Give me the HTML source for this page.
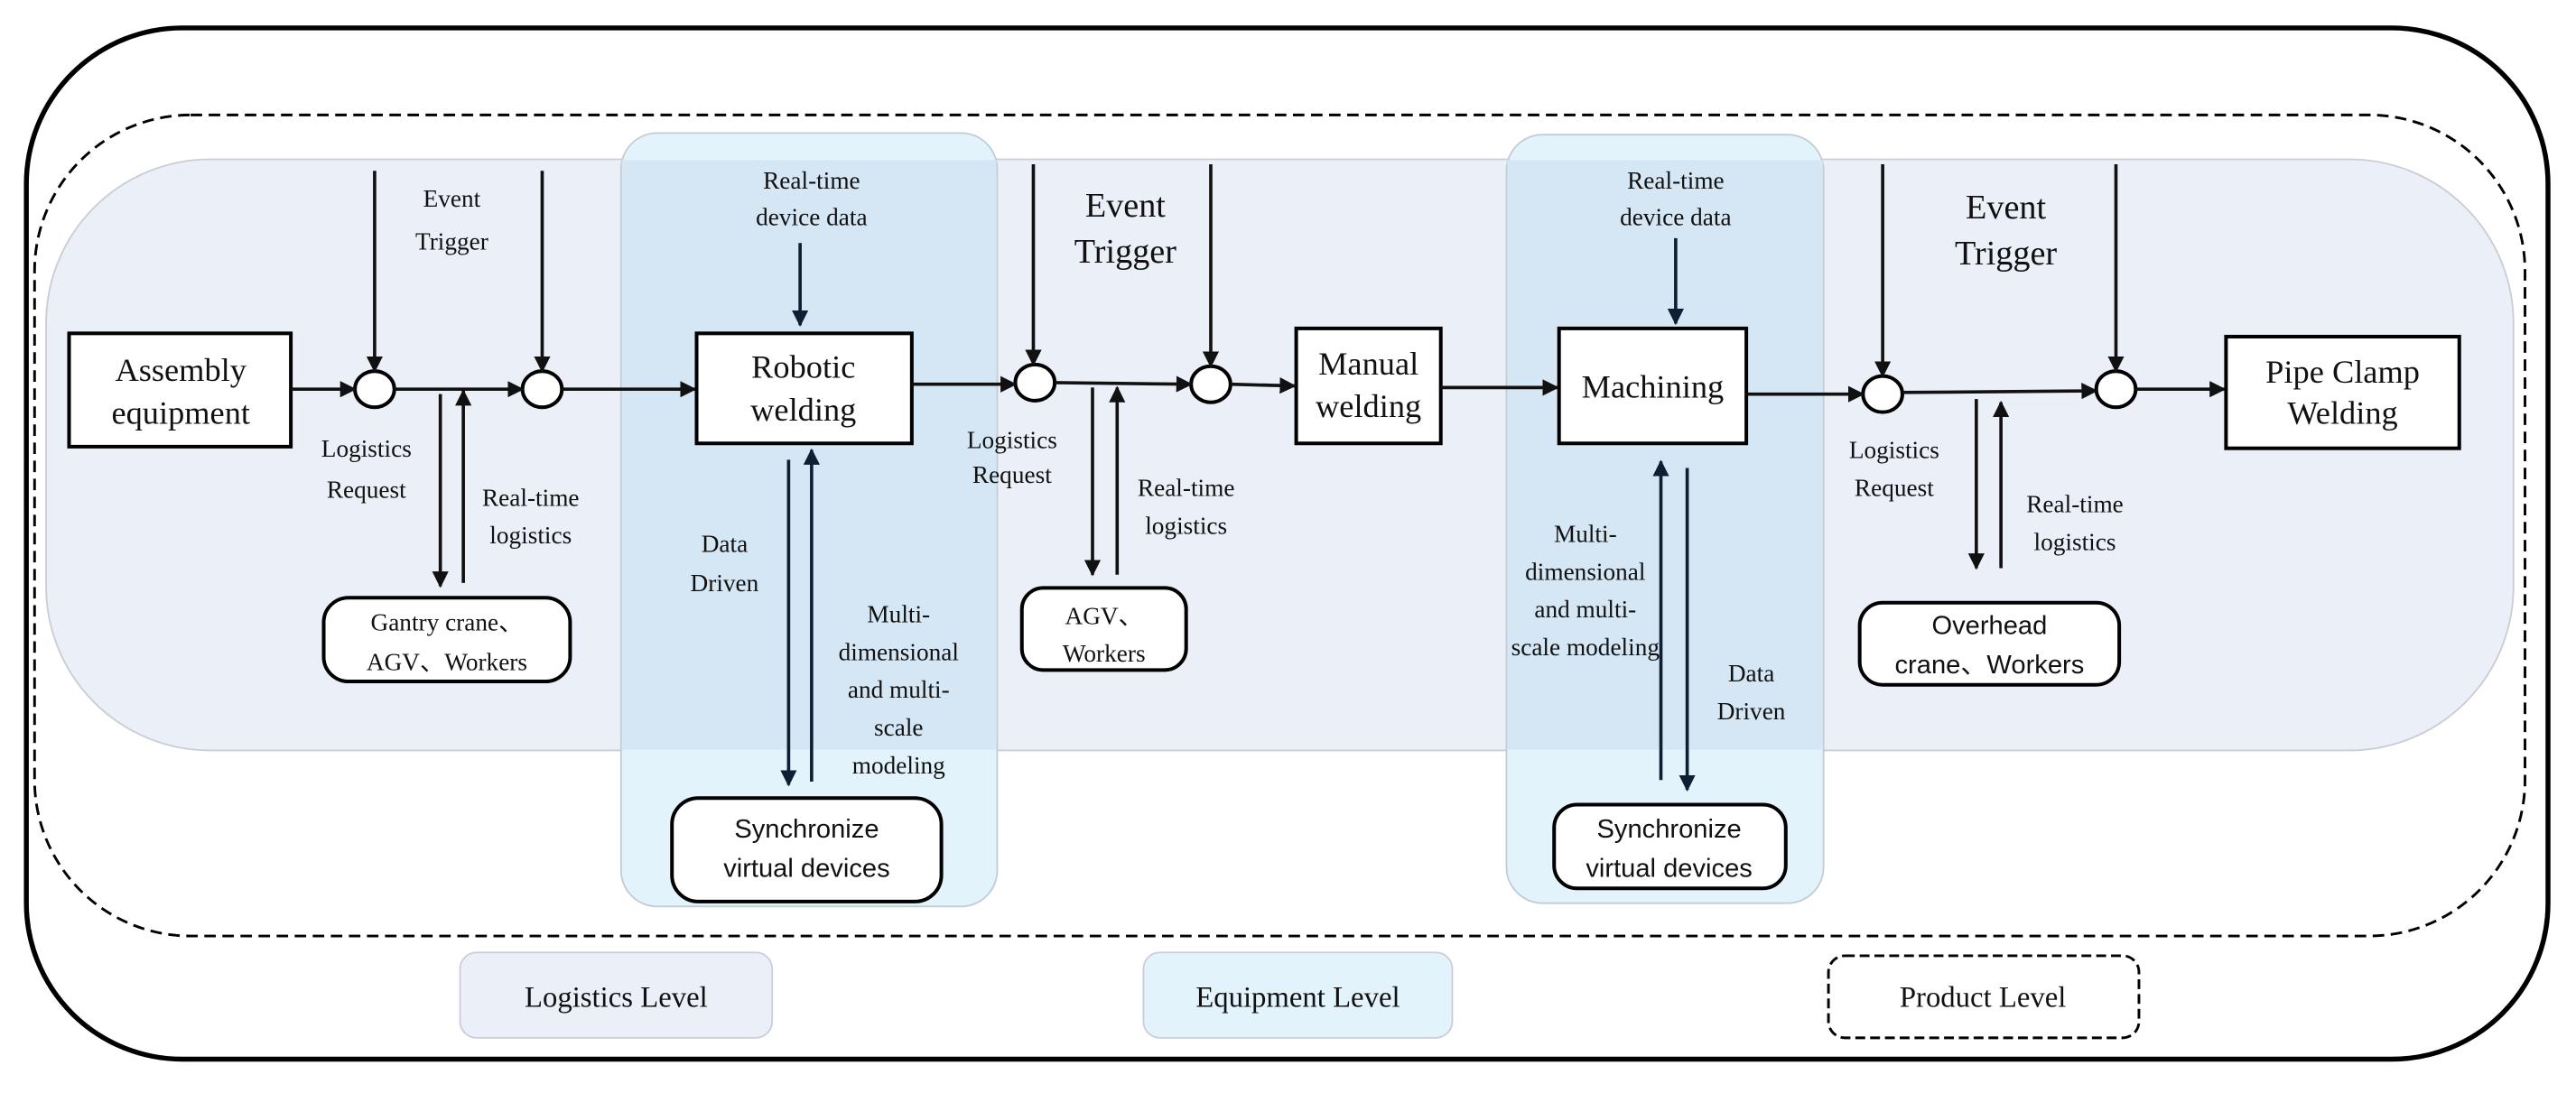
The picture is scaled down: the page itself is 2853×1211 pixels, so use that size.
<!DOCTYPE html>
<html><head><meta charset="utf-8"><style>
html,body{margin:0;padding:0;background:#fff;}
svg{display:block;}
text{font-family:"Liberation Serif",serif;fill:#111;}
.s{font-family:"Liberation Sans",sans-serif;}
</style></head><body>
<svg width="2853" height="1211" viewBox="0 0 1568 665.6" xmlns="http://www.w3.org/2000/svg">
<defs>
<marker id="a" markerWidth="10" markerHeight="10" refX="9" refY="5" orient="auto" markerUnits="userSpaceOnUse">
<path d="M0,0 L10,5 L0,10 z" fill="#111"/></marker>
<marker id="b" markerWidth="10" markerHeight="10" refX="9" refY="5" orient="auto" markerUnits="userSpaceOnUse">
<path d="M0,0 L10,5 L0,10 z" fill="#0d1f33"/></marker>
</defs>
<rect x="16" y="17" width="1535" height="628" rx="95" fill="#fff" stroke="#000" stroke-width="3"/>
<rect x="21" y="70" width="1516" height="500" rx="95" fill="none" stroke="#000" stroke-width="1.6" stroke-dasharray="7,4"/>
<rect x="28" y="97" width="1502" height="360" rx="100" fill="#eaeff8" stroke="#c9cdd4" stroke-width="1"/>
<rect x="378" y="81" width="229" height="471" rx="22" fill="#e2f3fc" stroke="#c3ccd3" stroke-width="1"/>
<rect x="917" y="82" width="193" height="468" rx="22" fill="#e2f3fc" stroke="#c3ccd3" stroke-width="1"/>
<rect x="378.5" y="97.5" width="228" height="359" fill="#d5e7f5"/>
<rect x="917.5" y="97.5" width="192" height="359" fill="#d5e7f5"/>

<!-- main boxes -->
<g fill="#fff" stroke="#000" stroke-width="2.2">
<rect x="42" y="203" width="135" height="69"/>
<rect x="424" y="203" width="131" height="67"/>
<rect x="789" y="200" width="88" height="70"/>
<rect x="949" y="200" width="114" height="70"/>
<rect x="1355" y="205" width="142" height="68"/>
<rect x="197" y="364" width="150" height="51" rx="15"/>
<rect x="622" y="358" width="100" height="50" rx="13"/>
<rect x="1132" y="367" width="158" height="50" rx="14"/>
<rect x="409" y="486" width="164" height="63" rx="16"/>
<rect x="946" y="490" width="141" height="51" rx="14"/>
<ellipse cx="228" cy="237" rx="12" ry="11"/>
<ellipse cx="330" cy="237" rx="12" ry="11"/>
<ellipse cx="630" cy="233" rx="12" ry="11"/>
<ellipse cx="737" cy="234" rx="12" ry="11"/>
<ellipse cx="1146" cy="240" rx="12" ry="11"/>
<ellipse cx="1288" cy="237" rx="12" ry="11"/>
</g>

<!-- arrows -->
<g stroke="#111" stroke-width="2" fill="none" marker-end="url(#a)">
<line x1="177" y1="237" x2="216" y2="237"/>
<line x1="240" y1="237" x2="318" y2="237"/>
<line x1="342" y1="237" x2="423" y2="237"/>
<line x1="555" y1="234" x2="618" y2="234"/>
<line x1="642" y1="233" x2="725" y2="234"/>
<line x1="749" y1="234" x2="788" y2="235"/>
<line x1="877" y1="236" x2="948" y2="236"/>
<line x1="1063" y1="240" x2="1134" y2="240"/>
<line x1="1158" y1="239" x2="1276" y2="238"/>
<line x1="1300" y1="237" x2="1354" y2="237"/>
<line x1="228" y1="104" x2="228" y2="226"/>
<line x1="330" y1="104" x2="330" y2="226"/>
<line x1="629" y1="100" x2="629" y2="222"/>
<line x1="737" y1="100" x2="737" y2="223"/>
<line x1="1146" y1="100" x2="1146" y2="229"/>
<line x1="1288" y1="100" x2="1288" y2="226"/>
<line x1="268" y1="240" x2="268" y2="357"/>
<line x1="282" y1="355" x2="282" y2="238"/>
<line x1="665" y1="236" x2="665" y2="350"/>
<line x1="680" y1="350" x2="680" y2="236"/>
<line x1="1203" y1="243" x2="1203" y2="346"/>
<line x1="1218" y1="346" x2="1218" y2="245"/>
</g>
<g stroke="#0d1f33" stroke-width="2" fill="none" marker-end="url(#b)">
<line x1="487" y1="148" x2="487" y2="198"/>
<line x1="1020" y1="145" x2="1020" y2="197"/>
<line x1="480" y1="280" x2="480" y2="478"/>
<line x1="494" y1="476" x2="494" y2="274"/>
<line x1="1011" y1="475" x2="1011" y2="281"/>
<line x1="1027" y1="285" x2="1027" y2="481"/>
</g>

<!-- box text -->
<g font-size="20" text-anchor="middle">
<text x="110" y="232">Assembly</text><text x="110" y="258">equipment</text>
<text x="489" y="230">Robotic</text><text x="489" y="256">welding</text>
<text x="833" y="228">Manual</text><text x="833" y="254">welding</text>
<text x="1006" y="242">Machining</text>
<text x="1426" y="233">Pipe Clamp</text><text x="1426" y="258">Welding</text>
</g>
<g font-size="15" text-anchor="middle">
<text x="272" y="384">Gantry crane、</text><text x="272" y="408">AGV、Workers</text>
<text x="672" y="380">AGV、</text><text x="672" y="403">Workers</text>
<text x="275" y="126">Event</text><text x="275" y="152">Trigger</text>
<text x="223" y="278">Logistics</text><text x="223" y="303">Request</text>
<text x="323" y="308">Real-time</text><text x="323" y="331">logistics</text>
<text x="494" y="115">Real-time</text><text x="494" y="137">device data</text>
<text x="441" y="336">Data</text><text x="441" y="360">Driven</text>
<text x="547" y="379">Multi-</text><text x="547" y="402">dimensional</text><text x="547" y="425">and multi-</text><text x="547" y="448">scale</text><text x="547" y="471">modeling</text>
<text x="616" y="273">Logistics</text><text x="616" y="294">Request</text>
<text x="722" y="302">Real-time</text><text x="722" y="325">logistics</text>
<text x="1020" y="115">Real-time</text><text x="1020" y="137">device data</text>
<text x="965" y="330">Multi-</text><text x="965" y="353">dimensional</text><text x="965" y="376">and multi-</text><text x="965" y="399">scale modeling</text>
<text x="1066" y="415">Data</text><text x="1066" y="438">Driven</text>
<text x="1153" y="279">Logistics</text><text x="1153" y="302">Request</text>
<text x="1263" y="312">Real-time</text><text x="1263" y="335">logistics</text>
</g>
<g font-size="21" text-anchor="middle">
<text x="685" y="132">Event</text><text x="685" y="160">Trigger</text>
<text x="1221" y="133">Event</text><text x="1221" y="161">Trigger</text>
</g>
<g font-size="16" text-anchor="middle" class="s">
<text class="s" x="1211" y="386">Overhead</text><text class="s" x="1211" y="410">crane、Workers</text>
<text class="s" x="491" y="510">Synchronize</text><text class="s" x="491" y="534">virtual devices</text>
<text class="s" x="1016" y="510">Synchronize</text><text class="s" x="1016" y="534">virtual devices</text>
</g>

<!-- legend -->
<rect x="280" y="580" width="190" height="52" rx="10" fill="#eaeff8" stroke="#ccd" stroke-width="1"/>
<rect x="696" y="580" width="188" height="52" rx="10" fill="#e2f3fc" stroke="#ccd" stroke-width="1"/>
<rect x="1113" y="582" width="189" height="50" rx="10" fill="#fff" stroke="#000" stroke-width="1.6" stroke-dasharray="6,3"/>
<g font-size="18" text-anchor="middle">
<text x="375" y="613">Logistics Level</text>
<text x="790" y="613">Equipment Level</text>
<text x="1207" y="613">Product Level</text>
</g>
</svg>
</body></html>
